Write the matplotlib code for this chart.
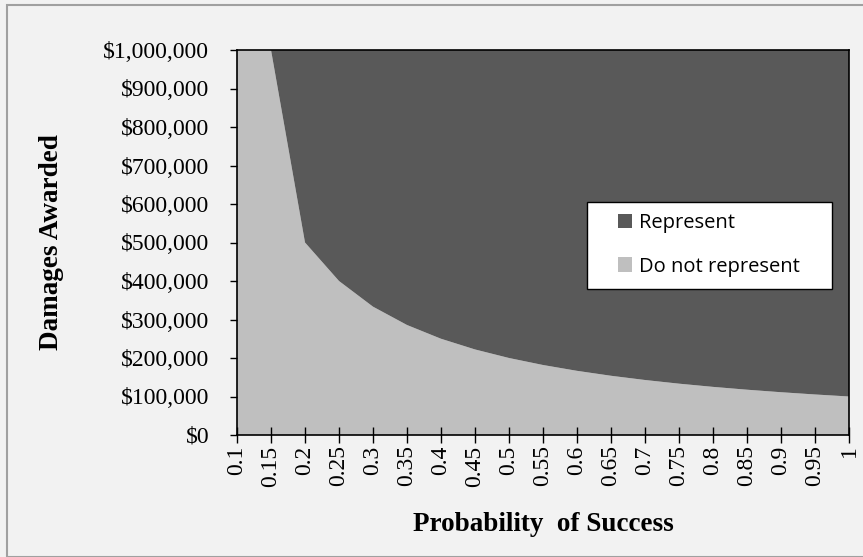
import matplotlib
matplotlib.use('Agg')
import matplotlib.pyplot as plt
from matplotlib.patches import Rectangle, Patch

prob = ['0.1', '0.15', '0.2', '0.25', '0.3', '0.35', '0.4', '0.45', '0.5', '0.55',
        '0.6', '0.65', '0.7', '0.75', '0.8', '0.85', '0.9', '0.95', '1']
do_not = [1000000, 1000000, 500000, 400000, 333333, 285714, 250000, 222222, 200000,
          181818, 166667, 153846, 142857, 133333, 125000, 117647, 111111, 105263, 100000]
represent = [1000000 - v for v in do_not]

dark = '#595959'
light = '#bfbfbf'
serif = 'Liberation Serif'

W, H = 863, 557
L, R, T, B = 237, 849, 50, 435

fig = plt.figure(figsize=(W/100, H/100), dpi=100)
fig.patch.set_facecolor('#f2f2f2')
fig.patches.append(Rectangle((7/W, 0), 1, 1 - 5/H, transform=fig.transFigure,
                             fill=False, edgecolor='#a0a0a0', lw=1.5))

ax = fig.add_axes([L/W, 1 - B/H, (R - L)/W, (B - T)/H])
x = list(range(len(prob)))
ax.stackplot(x, do_not, represent, colors=[light, dark], lw=0)
ax.set_xlim(0, len(prob) - 1)
ax.set_ylim(0, 1000000)

ax.set_xticks(x)
ax.set_xticklabels(prob, rotation=90, fontsize=17, family=serif)
yt = list(range(0, 1000001, 100000))
ax.set_yticks(yt)
ax.set_yticklabels(['${:,}'.format(v) for v in yt], fontsize=17, family=serif)
ax.tick_params(axis='x', direction='inout', length=11, width=1, pad=2)
ax.tick_params(axis='y', direction='out', length=5, width=1, pad=15)
for s in ax.spines.values():
    s.set_color('black')
    s.set_linewidth(1.2)

ax.set_ylabel('Damages Awarded', fontsize=19.5, family=serif, fontweight='bold')
ax.yaxis.set_label_coords((64 - L)/(R - L), 0.5)
ax.set_xlabel('Probability  of Success', fontsize=19.5, family=serif, fontweight='bold')
ax.xaxis.set_label_coords(0.5, -(512 - B)/(B - T))

# legend box
ax.add_patch(Rectangle(((587 - L)/(R - L), (B - 289)/(B - T)),
                       (832 - 587)/(R - L), (289 - 202)/(B - T),
                       transform=ax.transAxes, facecolor='white',
                       edgecolor='black', lw=1, zorder=5))
handles = [Patch(facecolor=dark, label='Represent'),
           Patch(facecolor=light, label='Do not represent')]
leg = ax.legend(handles=handles, loc='center left',
                bbox_to_anchor=((618 - L)/(R - L), (B - 245)/(B - T)),
                prop={'family': 'Open Sans', 'size': 14.5}, frameon=False,
                handlelength=0.7, handleheight=0.7, handletextpad=0.35,
                labelspacing=1.15, borderpad=0, borderaxespad=0)
leg.set_zorder(6)

plt.savefig('out.png', dpi=100, facecolor=fig.get_facecolor())
